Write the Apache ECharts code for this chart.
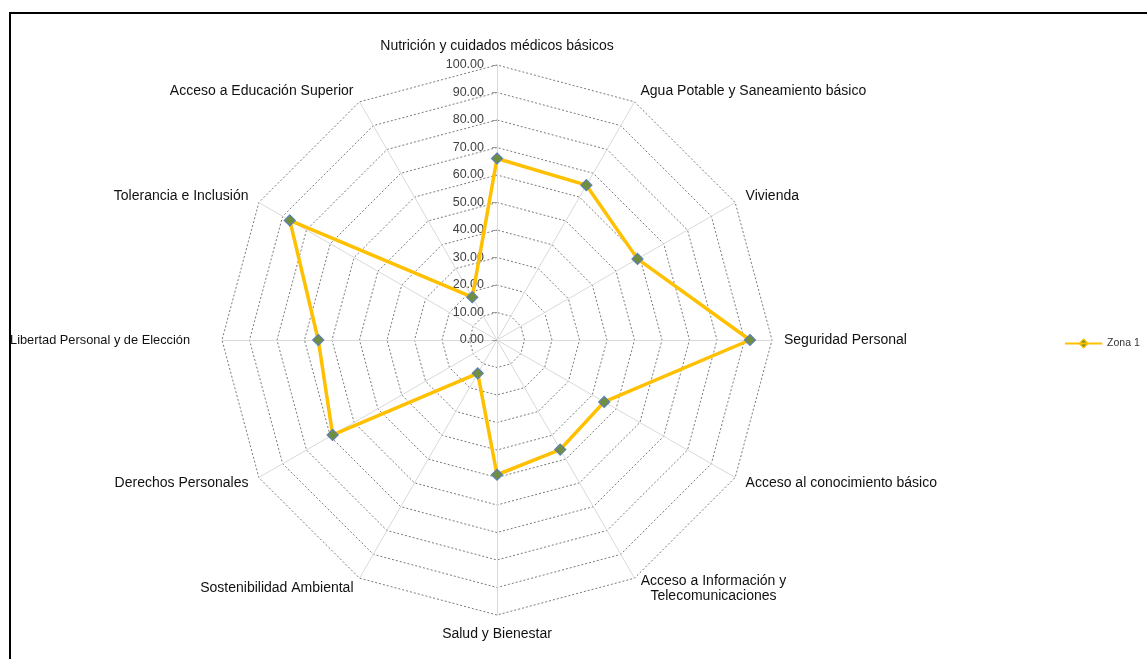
<!DOCTYPE html>
<html>
<head>
<meta charset="utf-8">
<script src="https://cdn.jsdelivr.net/npm/echarts@6/dist/echarts.min.js"></script>
<style>
  html, body { margin: 0; padding: 0; background: #fff; }
  #frame { position: absolute; left: 9px; top: 12px; width: 1200px; height: 700px; border: 2px solid #000; box-sizing: border-box; }
  #chart { position: absolute; left: 0; top: 0; width: 1147px; height: 659px; }
</style>
</head>
<body>
<div id="frame"></div>
<div id="chart"></div>
<script>
// Categories, clockwise from the top (as in the reference)
const categories = [
  "Nutrición y cuidados médicos básicos",
  "Agua Potable y Saneamiento básico",
  "Vivienda",
  "Seguridad Personal",
  "Acceso al conocimiento básico",
  "Acceso a Información y\nTelecomunicaciones",
  "Salud y Bienestar",
  "Sostenibilidad Ambiental",
  "Derechos Personales",
  "Libertad Personal y de Elección",
  "Tolerancia e Inclusión",
  "Acceso a Educación Superior"
];
const zona1 = [66, 65, 59, 92, 45, 46, 49, 14, 69, 65, 87, 18];
const seriesName = "Zona 1";
const axisMin = 0;
const axisMax = 100;
const axisStep = 10;

// ECharts lays radar indicators counter-clockwise: keep first, reverse the rest
const order = [0].concat(categories.map((_, i) => i).slice(1).reverse());
const indicators = order.map(i => ({ name: categories[i], min: axisMin, max: axisMax }));
const values = order.map(i => zona1[i]);

const CX = 497, CY = 340, R = 275;
const font = "'Liberation Sans', Arial, sans-serif";
const nameStyle = { color: '#111', fontSize: 14, fontFamily: font };

const chart = echarts.init(document.getElementById('chart'), null, { renderer: 'canvas' });
chart.setOption({
  animation: false,
  backgroundColor: 'transparent',
  textStyle: { fontFamily: font },
  legend: {
    left: 1060, top: 333,
    itemWidth: 37, itemHeight: 9, itemGap: 4,
    icon: 'path://M0,4 L36,4 L36,5 L0,5 Z M18,0 L22.5,4.5 L18,9 L13.5,4.5 Z',
    textStyle: { fontSize: 10.5, color: '#333', fontFamily: font },
    data: [{ name: seriesName, itemStyle: { color: '#6f8f3f', borderColor: '#ffc000', borderWidth: 1.2 } }]
  },
  radar: {
    center: [CX, CY],
    radius: R,
    startAngle: 90,
    splitNumber: (axisMax - axisMin) / axisStep,
    shape: 'polygon',
    indicator: indicators,
    nameGap: 12,
    axisName: Object.assign({}, nameStyle, {
      formatter: function (name) {
        if (name.indexOf('Libertad') === 0) return '{far|' + name + '}';
        if (name.indexOf('\n') >= 0) return name.split('\n').map(s => '{ctr|' + s + '}').join('\n');
        return name;
      },
      rich: {
        far: Object.assign({}, nameStyle, { fontSize: 12.8, padding: [0, 20, 0, 0] }),
        ctr: Object.assign({}, nameStyle, { width: 146, align: 'center', lineHeight: 15 })
      }
    }),
    axisLine: { lineStyle: { color: '#d9d9d9', width: 1 } },
    splitLine: { lineStyle: { color: '#7a7a7a', width: 1, type: [2, 2] } },
    splitArea: { show: false },
    axisTick: { show: false },
    axisLabel: { show: false }
  },
  grid: { left: CX, top: CY - R, width: 1, height: R },
  xAxis: { type: 'value', show: false },
  yAxis: {
    type: 'value', min: axisMin, max: axisMax, interval: axisStep,
    axisLine: { show: false },
    axisTick: { show: true, length: 5, lineStyle: { color: '#999' } },
    splitLine: { show: false },
    axisLabel: { margin: 13, fontSize: 12.5, color: '#404040', fontFamily: font, formatter: v => v.toFixed(2) }
  },
  series: [{
    type: 'radar',
    name: seriesName,
    symbol: 'diamond',
    symbolSize: 11,
    lineStyle: { color: '#ffc000', width: 3.5 },
    itemStyle: { color: '#6f8f3f', borderColor: '#5b7fb5', borderWidth: 1.2 },
    data: [{ value: values, name: seriesName }]
  }]
});
</script>
</body>
</html>
